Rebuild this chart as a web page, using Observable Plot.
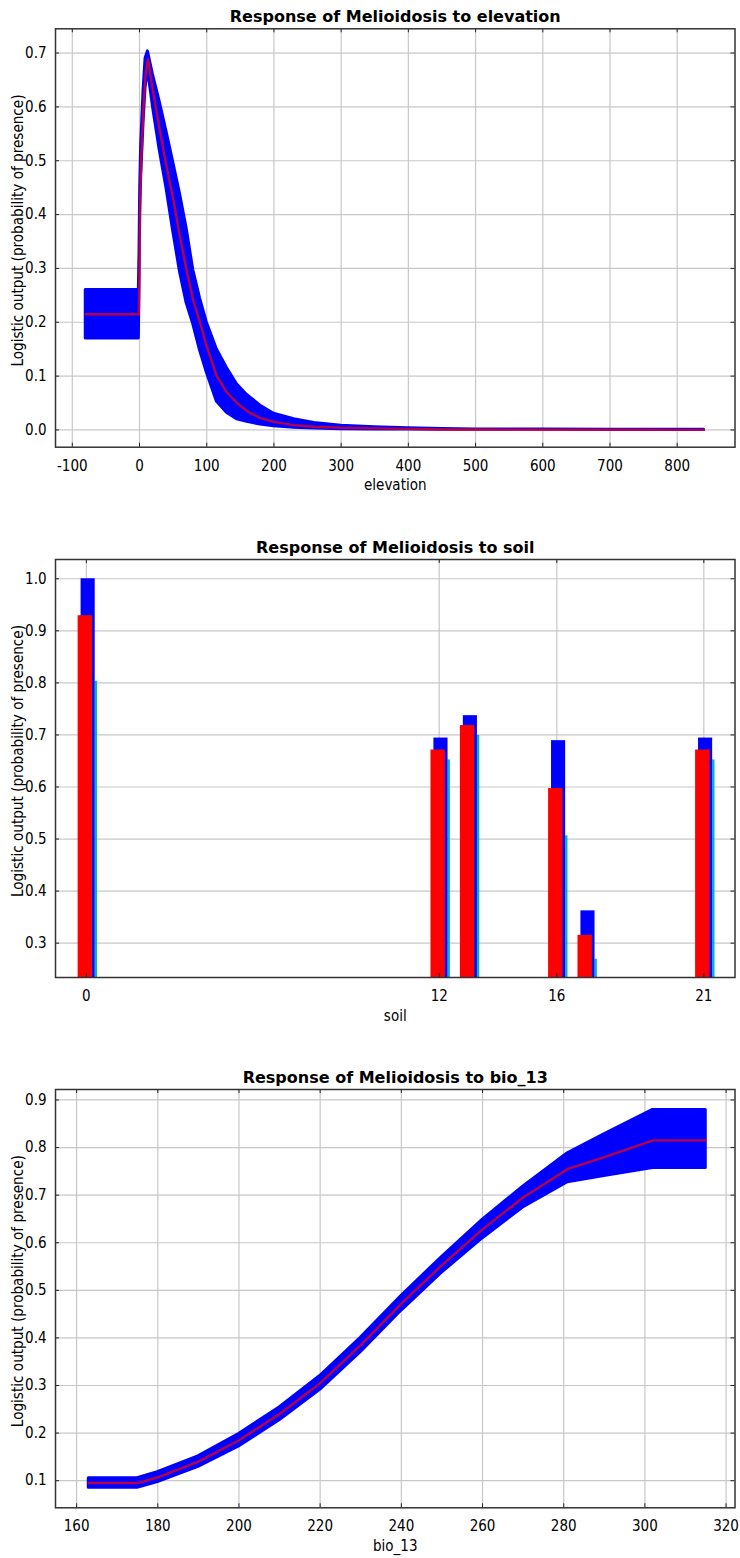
<!DOCTYPE html>
<html><head><meta charset="utf-8">
<script src="https://cdn.jsdelivr.net/npm/d3@7"></script>
<script src="https://cdn.jsdelivr.net/npm/@observablehq/plot@0.6"></script>
<style>
html,body{margin:0;padding:0;background:#fff;}
#root{width:740px;height:1558px;overflow:hidden;background:#fff;}
#root svg{display:block;}
</style></head><body><div id="root"></div>
<script>
// ---------- Panel 1: elevation ----------
const elevX     = [-80, -1, 0, 1, 2.5, 6, 9, 12.5, 20, 30, 40, 50, 60, 70, 80, 90, 100, 115, 130, 145, 160, 180, 200, 230, 260, 300, 350, 400, 450, 500, 600, 700, 840];
const elevMean  = [0.215, 0.215, 0.30, 0.43, 0.50, 0.60, 0.66, 0.689, 0.63, 0.558, 0.49, 0.43, 0.36, 0.297, 0.24, 0.20, 0.155, 0.10, 0.07, 0.05, 0.035, 0.022, 0.015, 0.009, 0.006, 0.004, 0.003, 0.002, 0.001, 0.0008, 0.0005, 0.0003, 0.0002];
const elevUpper = [0.26, 0.26, 0.33, 0.45, 0.53, 0.63, 0.69, 0.703, 0.66, 0.61, 0.555, 0.498, 0.44, 0.375, 0.297, 0.245, 0.20, 0.15, 0.115, 0.085, 0.065, 0.045, 0.03, 0.02, 0.013, 0.008, 0.005, 0.003, 0.002, 0.001, 0.0007, 0.0004, 0.0003];
const elevLower = [0.17, 0.17, 0.27, 0.40, 0.47, 0.57, 0.635, 0.67, 0.60, 0.52, 0.45, 0.37, 0.295, 0.236, 0.196, 0.148, 0.107, 0.053, 0.032, 0.02, 0.015, 0.01, 0.007, 0.004, 0.0025, 0.0015, 0.001, 0.0008, 0.0005, 0.0003, 0.0002, 0.0001, 0.0001];
const elevXTicks = [-100, 0, 100, 200, 300, 400, 500, 600, 700, 800];
const elevYTicks = [0.0, 0.1, 0.2, 0.3, 0.4, 0.5, 0.6, 0.7];

// ---------- Panel 2: soil ----------
const soilCats  = [0, 12, 13, 16, 17, 21];
const soilMean  = [0.929, 0.671, 0.718, 0.597, 0.315, 0.671];
const soilPlus  = [1.0, 0.694, 0.737, 0.689, 0.362, 0.694];
const soilMinus = [0.803, 0.652, 0.699, 0.506, 0.269, 0.652];
const soilXTicks = [0, 12, 16, 21];
const soilYTicks = [0.3, 0.4, 0.5, 0.6, 0.7, 0.8, 0.9, 1.0];

// ---------- Panel 3: bio_13 ----------
const bioX     = [163, 175, 180, 190, 200, 210, 220, 230, 240, 250, 260, 270, 281, 290, 302, 315];
const bioMean  = [0.095, 0.095, 0.107, 0.14, 0.185, 0.24, 0.305, 0.385, 0.472, 0.553, 0.628, 0.695, 0.755, 0.78, 0.815, 0.815];
const bioLower = [0.085, 0.085, 0.097, 0.129, 0.172, 0.227, 0.291, 0.37, 0.457, 0.537, 0.609, 0.674, 0.727, 0.74, 0.757, 0.757];
const bioUpper = [0.105, 0.105, 0.118, 0.151, 0.198, 0.254, 0.32, 0.4, 0.488, 0.57, 0.648, 0.718, 0.788, 0.828, 0.879, 0.879];
const bioXTicks = [160, 180, 200, 220, 240, 260, 280, 300, 320];
const bioYTicks = [0.1, 0.2, 0.3, 0.4, 0.5, 0.6, 0.7, 0.8, 0.9];

const yLabelText = "Logistic output (probability of presence)";
const TICKFONT = '"Liberation Sans Narrow","DejaVu Sans Condensed","Liberation Sans",sans-serif';
const LABELFONT = '"Liberation Sans",Arial,sans-serif';
const BLUE = "#0000ff", RED = "#ff0000", CYAN = "#00b4c8";

const elevData = elevX.map((x, i) => ({x, mean: elevMean[i], lo: elevLower[i], hi: elevUpper[i]}));
const bioData = bioX.map((x, i) => ({x, mean: bioMean[i], lo: bioLower[i], hi: bioUpper[i]}));
const soilData = soilCats.map((c, i) => ({c, mean: soilMean[i], plus: soilPlus[i], minus: soilMinus[i]}));

const ML = 55, MR = 5.5, W = 740;

function panel({height, marginTop, marginBottom, xDomain, yDomain, xTicks, yTicks, title, xLabel, marks, tickPad}) {
  const H = height - marginTop - marginBottom;
  const FW = W - ML - MR;
  const svg = Plot.plot({
    width: W, height, marginTop, marginBottom, marginLeft: ML, marginRight: MR,
    x: {domain: xDomain}, y: {domain: yDomain},
    style: {fontFamily: TICKFONT, fontSize: "15px", background: "#fff", color: "#000", overflow: "visible"},
    marks: [
      Plot.gridX(xTicks, {stroke: "#c8c8c8", strokeOpacity: 1, strokeWidth: 1.2}),
      Plot.gridY(yTicks, {stroke: "#c8c8c8", strokeOpacity: 1, strokeWidth: 1.2}),
      ...marks,
      Plot.tickX(xTicks, {x: d => d, insetTop: H - 4, stroke: "#222"}),
      Plot.tickX(xTicks, {x: d => d, insetBottom: H - 4, stroke: "#222"}),
      Plot.tickY(yTicks, {y: d => d, insetRight: FW - 4, stroke: "#222"}),
      Plot.tickY(yTicks, {y: d => d, insetLeft: FW - 4, stroke: "#222"}),
      Plot.frame({stroke: "#333", strokeWidth: 1.5}),
      Plot.axisX(xTicks, {tickSize: 0, tickPadding: tickPad, label: null, tickFormat: d => String(d), fontSize: 15}),
      Plot.axisY(yTicks, {tickSize: 0, tickPadding: 9, label: null, tickFormat: d3.format(".1f"), fontSize: 15}),
      Plot.text([title], {text: d => d, frameAnchor: "top", dy: -6.5, lineAnchor: "bottom", fontFamily: "DejaVu Sans", fontWeight: "bold", fontSize: 16}),
      Plot.text([xLabel], {text: d => d, frameAnchor: "bottom", dy: 43, lineAnchor: "bottom", fontFamily: TICKFONT, fontSize: 15}),
      Plot.text([yLabelText], {text: d => d, frameAnchor: "left", dx: -37, dy: -7.5, rotate: -90, lineAnchor: "middle", textAnchor: "middle", fontFamily: TICKFONT, fontSize: 15})
    ]
  });
  d3.select(svg).selectAll("text").filter(function() { return this.textContent === yLabelText; })
    .attr("textLength", 272).attr("lengthAdjust", "spacingAndGlyphs");
  return svg;
}

function curveMarks(data) {
  return [
    Plot.areaY(data, {x: "x", y1: "lo", y2: "hi", fill: BLUE, stroke: BLUE, strokeWidth: 3, strokeLinejoin: "round", clip: true}),
    Plot.line(data, {x: "x", y: "mean", stroke: RED, strokeOpacity: 0.72, strokeWidth: 2.4, clip: true})
  ];
}

const root = document.getElementById("root");

root.appendChild(panel({
  height: 520, marginTop: 28.3, marginBottom: 73.3,
  xDomain: [-125, 886], yDomain: [-0.032, 0.745],
  xTicks: elevXTicks, yTicks: elevYTicks,
  title: "Response of Melioidosis to elevation", xLabel: "elevation",
  marks: curveMarks(elevData), tickPad: 13.5
}));

root.appendChild(panel({
  height: 530, marginTop: 39, marginBottom: 73,
  xDomain: [-1.05, 22.06], yDomain: [0.234, 1.037],
  xTicks: soilXTicks, yTicks: soilYTicks,
  title: "Response of Melioidosis to soil", xLabel: "soil",
  marks: [
    Plot.rect(soilData, {x1: d => d.c + 0.30, x2: d => d.c + 0.38, y1: 0, y2: "minus", fill: CYAN, clip: true}),
    Plot.rect(soilData, {x1: d => d.c - 0.18, x2: d => d.c + 0.30, y1: 0, y2: "plus", fill: BLUE, clip: true}),
    Plot.rect(soilData, {x1: d => d.c - 0.28, x2: d => d.c + 0.21, y1: 0, y2: "mean", fill: RED, clip: true})
  ], tickPad: 13
}));

root.appendChild(panel({
  height: 508, marginTop: 39, marginBottom: 50.7,
  xDomain: [154.8, 322.2], yDomain: [0.043, 0.922],
  xTicks: bioXTicks, yTicks: bioYTicks,
  title: "Response of Melioidosis to bio_13", xLabel: "bio_13",
  marks: curveMarks(bioData), tickPad: 13
}));
</script>
</body></html>
